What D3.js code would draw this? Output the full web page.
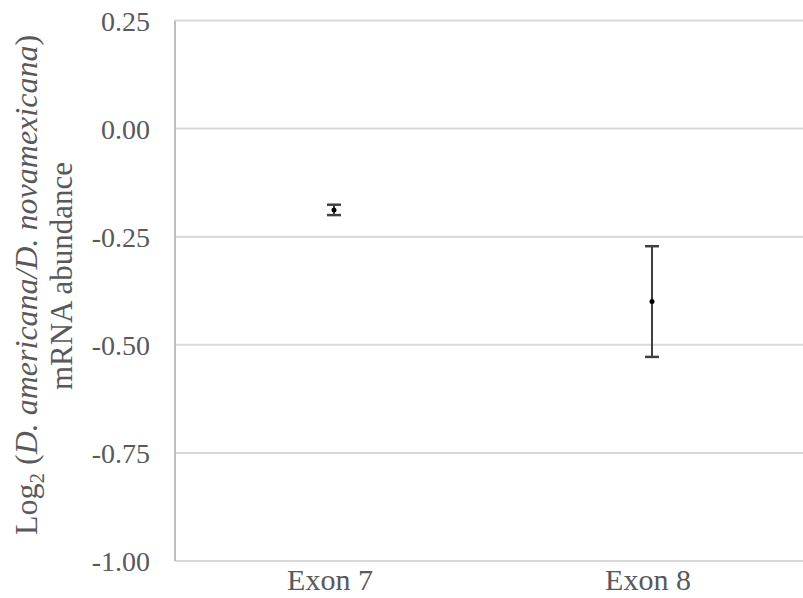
<!DOCTYPE html>
<html>
<head>
<meta charset="utf-8">
<script src="https://cdn.jsdelivr.net/npm/d3@7/dist/d3.min.js"></script>
<style>
  html, body { margin: 0; padding: 0; background: #fff; }
  svg { display: block; }
  text { font-family: "Liberation Serif", "Times New Roman", serif; fill: #595959; }
</style>
</head>
<body>
<svg id="chart" width="803" height="598"></svg>
<script>
// Exon-level log2 expression ratio with error bars
const categories = ["Exon 7", "Exon 8"];
const means = [-0.188, -0.40];
const errors = [0.012, 0.128];
const yTicks = [0.25, 0.00, -0.25, -0.50, -0.75, -1.00];

const svg = d3.select("#chart");
const margin = { left: 175, top: 20.5, right: -8, bottom: 37 };
const W = 803, H = 598;
const x0 = margin.left, x1 = W - margin.right;
const y0 = margin.top, y1 = H - margin.bottom;

const y = d3.scaleLinear().domain([-1.0, 0.25]).range([y1, y0]);
const x = d3.scaleBand().domain(categories).range([x0, x1]);

// horizontal gridlines
svg.append("g").selectAll("line").data(yTicks).join("line")
  .attr("x1", x0).attr("x2", x1)
  .attr("y1", d => y(d)).attr("y2", d => y(d))
  .attr("stroke", "#d9d9d9").attr("stroke-width", 2);

// left axis line
svg.append("line")
  .attr("x1", x0).attr("x2", x0).attr("y1", y0).attr("y2", y1)
  .attr("stroke", "#bfbfbf").attr("stroke-width", 2);

// y tick labels
const yAxis = d3.axisLeft(y).tickValues(yTicks).tickSize(0).tickPadding(25)
  .tickFormat(d => d3.format(".2f")(d).replace("−", "-"));
const gy = svg.append("g").attr("transform", `translate(${x0},0)`).call(yAxis);
gy.select(".domain").remove();
gy.selectAll("text").attr("font-size", 28).attr("dy", "0.34em")
  .attr("font-family", "Liberation Serif").attr("fill", "#595959");

// x category labels
const xAxis = d3.axisBottom(x).tickSize(0).tickPadding(8);
const gx = svg.append("g").attr("transform", `translate(0,${y1})`).call(xAxis);
gx.select(".domain").remove();
gx.selectAll("text").attr("font-size", 30).attr("dx", -4)
  .attr("font-family", "Liberation Serif").attr("fill", "#595959");

// error bars
const capHalf = 7;
const eb = svg.append("g");
categories.forEach((c, i) => {
  const cx = x(c) + x.bandwidth() / 2;
  const lo = means[i] - errors[i], hi = means[i] + errors[i];
  eb.append("line").attr("x1", cx).attr("x2", cx).attr("y1", y(hi)).attr("y2", y(lo))
    .attr("stroke", "#404040").attr("stroke-width", 2);
  [hi, lo].forEach(v => eb.append("line")
    .attr("x1", cx - capHalf).attr("x2", cx + capHalf).attr("y1", y(v)).attr("y2", y(v))
    .attr("stroke", "#404040").attr("stroke-width", 2.5));
  eb.append("circle").attr("cx", cx).attr("cy", y(means[i])).attr("r", 2.5).attr("fill", "#000");
});

// y axis title (two lines, rotated)
const t1 = svg.append("text")
  .attr("transform", `translate(37,285) rotate(-90)`)
  .attr("text-anchor", "middle").attr("font-size", 32);
t1.append("tspan").text("Log");
t1.append("tspan").text("2").attr("font-size", 21).attr("dy", 7);
t1.append("tspan").text(" (").attr("dy", -7);
t1.append("tspan").text("D. americana/D. novamexicana").attr("font-style", "italic");
t1.append("tspan").text(")");

svg.append("text")
  .attr("transform", `translate(72,276) rotate(-90)`)
  .attr("text-anchor", "middle").attr("font-size", 31)
  .text("mRNA abundance");
</script>
</body>
</html>
